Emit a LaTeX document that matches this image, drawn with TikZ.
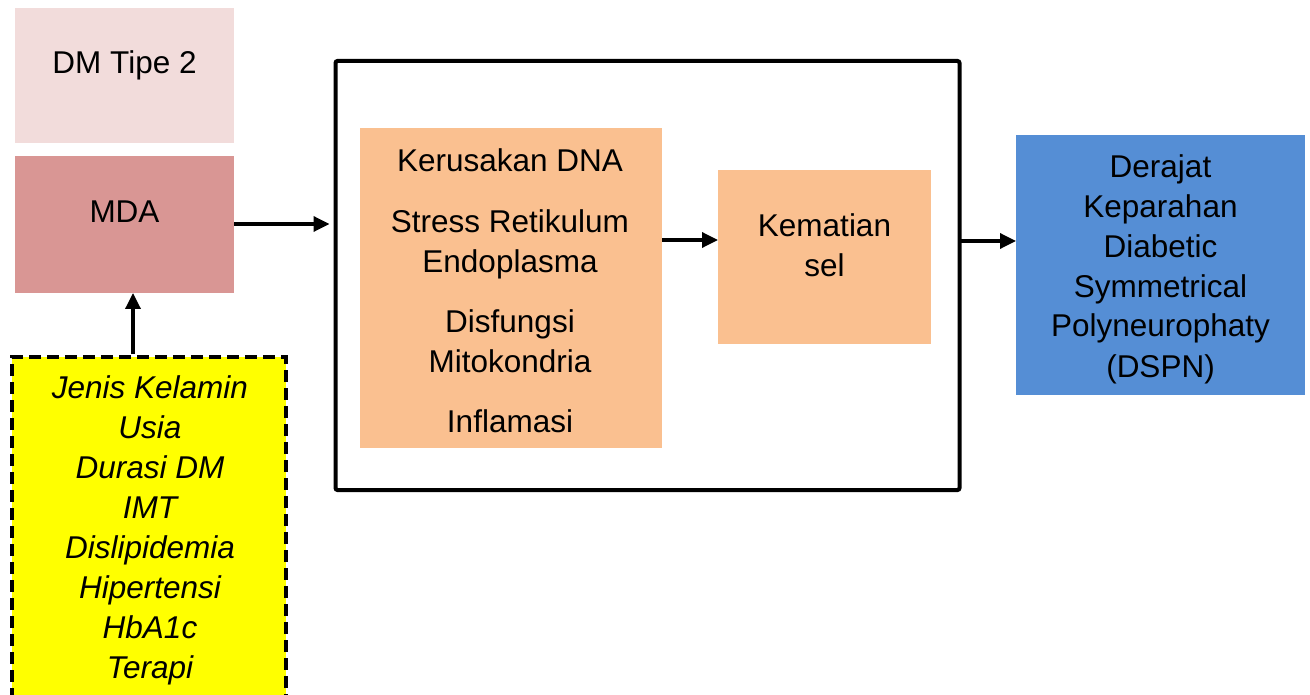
\documentclass[tikz,border=0pt]{standalone}
\usepackage{fontspec}
\setmainfont{Liberation Sans}
\usetikzlibrary{arrows.meta}
\definecolor{dmcol}{HTML}{F2DCDB}
\definecolor{mdacol}{HTML}{D99694}
\definecolor{orcol}{HTML}{FAC090}
\definecolor{bluecol}{HTML}{558ED5}
\definecolor{yelcol}{HTML}{FFFF00}
\tikzset{
  shapebox/.style={rectangle, draw=none, inner sep=0pt, outer sep=0pt},
  txt/.style={align=center, inner sep=0pt, anchor=base, font=\fontsize{31.5}{40}\selectfont},
  conn/.style={line width=3.4pt, -{Triangle[length=16pt,width=15pt]}},
}
\begin{document}
\begin{tikzpicture}[x=1pt,y=-1pt]
\clip (0,0) rectangle (1310,695);
\fill[white] (0,0) rectangle (1310,695);
% left boxes
\node[shapebox, fill=dmcol, minimum width=219pt, minimum height=135pt] (dm) at (124.5,75.5) {};
\node[txt] (dmt) at (124.5,74) {DM Tipe 2};
\node[shapebox, fill=mdacol, minimum width=219pt, minimum height=137pt] (mda) at (124.5,224.5) {};
\node[txt] (mdat) at (124.5,223) {MDA};
\node[shapebox, fill=yelcol, draw=black, line width=4.5pt, dash pattern=on 12pt off 6pt, minimum width=274pt, minimum height=345pt] (yel) at (149,529.5) {};
\node[txt, font=\fontsize{31.5}{40}\selectfont\itshape] (yelt) at (150,678) {Jenis Kelamin\\Usia\\Durasi DM\\IMT\\Dislipidemia\\Hipertensi\\HbA1c\\Terapi};
% frame
\node[shapebox, draw=black, line width=4pt, rounded corners=2pt, minimum width=624pt, minimum height=429pt] (frame) at (647.5,275.5) {};
\node[shapebox, fill=orcol, minimum width=302pt, minimum height=320pt] (ora) at (511,288) {};
\node[txt] (orat) at (510,432) {Kerusakan DNA\\[21pt]Stress Retikulum\\Endoplasma\\[20pt]Disfungsi\\Mitokondria\\[20pt]Inflamasi};
\node[shapebox, fill=orcol, minimum width=213pt, minimum height=174pt] (mati) at (824.5,257) {};
\node[txt] (matit) at (824.5,277) {Kematian\\sel};
% result
\node[shapebox, fill=bluecol, minimum width=289pt, minimum height=260pt] (blue) at (1160.5,265) {};
\node[txt] (bluet) at (1160.5,377) {Derajat\\Keparahan\\Diabetic\\Symmetrical\\Polyneurophaty\\(DSPN)};
% connectors
\draw[conn] (yel.north -| 133,0) ++(0,-3) coordinate (ys) -- (mda.south -| ys);
\draw[conn, shorten >=6pt] (mda.east |- 0,224) coordinate (ms) -- (frame.west |- ms);
\draw[conn] (ora.east |- 0,240) coordinate (os) -- (mati.west |- os);
\draw[conn] (frame.east |- 0,241) coordinate (fs) -- (blue.west |- fs);
\end{tikzpicture}
\end{document}
